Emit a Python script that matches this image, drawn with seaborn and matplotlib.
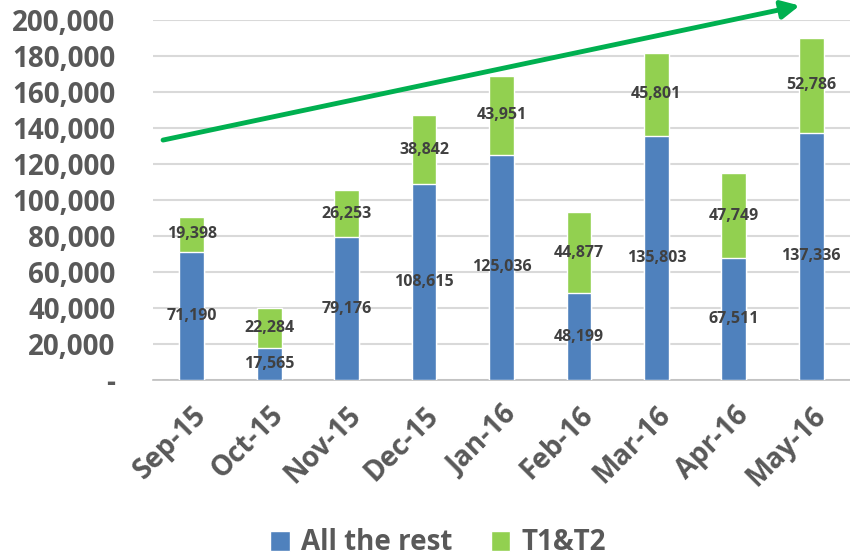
import matplotlib
matplotlib.use("Agg")
import matplotlib.pyplot as plt
import seaborn as sns
import pandas as pd
from matplotlib.ticker import FuncFormatter, FixedLocator
from matplotlib.patches import Patch

months = ["Sep-15", "Oct-15", "Nov-15", "Dec-15", "Jan-16", "Feb-16", "Mar-16", "Apr-16", "May-16"]
all_rest = [71190, 17565, 79176, 108615, 125036, 48199, 135803, 67511, 137336]
t1t2 = [19398, 22284, 26253, 38842, 43951, 44877, 45801, 47749, 52786]
series_names = ["All the rest", "T1&T2"]

BLUE = "#4F81BD"
GREEN = "#92D050"
ARROW = "#00B050"
GRAY = "#595959"
LABEL = "#404040"

sns.set_theme(style="white")
plt.rcParams["font.family"] = ["Open Sans", "DejaVu Sans"]

df = pd.DataFrame({"month": months, "rest": all_rest, "t": t1t2})
df["total"] = df["rest"] + df["t"]

fig = plt.figure(figsize=(8.5, 5.6), dpi=100)
ax = fig.add_axes([153 / 850, 180 / 560, 697 / 850, 360 / 560])

sns.barplot(data=df, x="month", y="total", color=GREEN, width=0.32, saturation=1, ax=ax, zorder=3)
sns.barplot(data=df, x="month", y="rest", color=BLUE, width=0.32, saturation=1, ax=ax, zorder=3)

ax.set_ylim(0, 200000)
ax.set_xlim(-0.5, len(months) - 0.5)
ax.set_yticks(range(0, 200001, 20000))
ax.yaxis.set_major_formatter(FuncFormatter(lambda v, p: "-" if v == 0 else f"{int(v):,}"))
ax.grid(axis="y", color="#D9D9D9", linewidth=1.5, zorder=0)
ax.set_axisbelow(True)
for s in ["top", "right", "left"]:
    ax.spines[s].set_visible(False)
ax.spines["bottom"].set_color("#BFBFBF")
ax.spines["bottom"].set_linewidth(1.2)

ax.set_xlabel("")
ax.set_ylabel("")
ax.tick_params(axis="y", length=0, pad=27, labelsize=20, labelcolor=GRAY)
for lab in ax.get_yticklabels():
    lab.set_fontweight("bold")

ax.tick_params(axis="x", which="major", length=0, pad=15, labelsize=20, labelcolor=GRAY)
ax.set_xticks(range(len(months)))
ax.set_xticklabels(months, rotation=45, ha="right", rotation_mode="anchor", fontweight="bold")
ax.xaxis.set_minor_locator(FixedLocator([i - 0.5 for i in range(len(months) + 1)]))
ax.tick_params(axis="x", which="minor", length=8, width=1.2, color="#BFBFBF", direction="out")

for i in range(len(months)):
    r = all_rest[i]
    t = t1t2[i]
    ax.text(i, r / 2, f"{r:,}", ha="center", va="center", fontsize=11.5,
            fontweight="bold", color=LABEL, zorder=5)
    ax.text(i, r + t / 2, f"{t:,}", ha="center", va="center", fontsize=11.5,
            fontweight="bold", color=LABEL, zorder=5)

ax.annotate("", xy=(7.85, 208000), xytext=(-0.37, 133300),
            xycoords="data", textcoords="data", annotation_clip=False,
            arrowprops=dict(arrowstyle="-|>,head_length=0.9,head_width=0.45",
                            color=ARROW, lw=3.5, shrinkA=0, shrinkB=0), zorder=6)

handles = [Patch(facecolor=BLUE, label=series_names[0]), Patch(facecolor=GREEN, label=series_names[1])]
leg = fig.legend(handles=handles, loc="center", bbox_to_anchor=(438 / 850, 1 - 543 / 560),
                 ncol=2, frameon=False, fontsize=20,
                 handlelength=0.7, handleheight=0.7, handletextpad=0.4, columnspacing=1.4)
for t in leg.get_texts():
    t.set_color(GRAY)
    t.set_fontweight("bold")

fig.savefig("out.png", dpi=100)
